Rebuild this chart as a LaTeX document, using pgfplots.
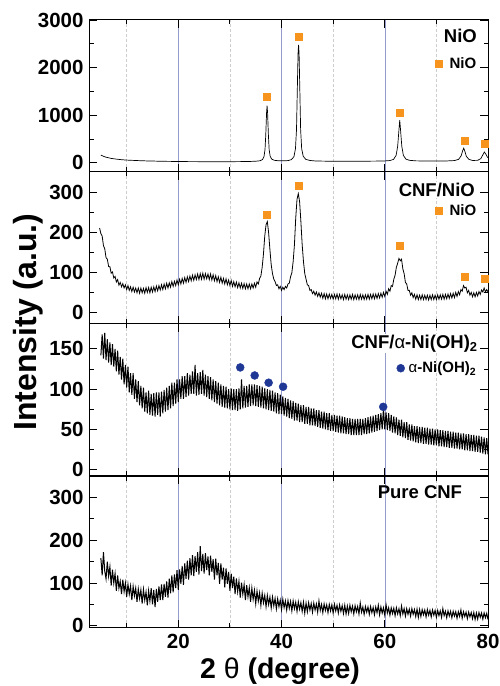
\documentclass[border=0pt]{standalone}
\usepackage{pgfplots}
\pgfplotsset{compat=1.18}
\usepackage{fontspec}
\setmainfont{Liberation Sans}
\definecolor{nio}{RGB}{247,148,29}
\definecolor{nioh}{RGB}{31,56,150}
\definecolor{gridmaj}{RGB}{150,155,205}
\definecolor{gridmin}{RGB}{205,205,205}
\newcommand\tickfont{\fontsize{20.5}{22}\selectfont\bfseries}
\newcommand\titlefont{\fontsize{18.5}{20}\selectfont\bfseries}
\newcommand\legfont{\fontsize{15}{16}\selectfont\bfseries}
\tikzset{titlenode/.style={font=\titlefont, inner sep=1pt, fill=white, anchor=base east}}
\pgfplotsset{
  panel/.style={
    scale only axis, width=399pt, height=152pt,
    xmin=2.7, xmax=80,
    xtick={20,40,60,80}, minor xtick={10,30,50,70},
    xticklabels={},
    tick align=inside,
    major tick length=8pt, minor tick length=4.5pt,
    every tick/.style={black, line width=0.9pt},
    axis line style={line width=1pt},
    xmajorgrids, xminorgrids,
    major grid style={gridmaj, line width=0.5pt},
    minor grid style={gridmin, dash pattern=on 3pt off 2pt, line width=0.5pt},
    minor y tick num=1,
    tick label style={font=\tickfont},
    /pgf/number format/assume math mode=true,
    /pgf/number format/1000 sep={},
    yticklabel style={xshift=-2pt},
    legend style={draw=none, fill=none, font=\legfont, inner sep=0pt},
    legend image code/.code={\draw[mark repeat=2,mark phase=2] plot coordinates {(0pt,0pt)(6pt,0pt)(12pt,0pt)};},
  },
  data/.style={black, line width=1pt, no marks, forget plot},
}
\begin{document}
\begin{tikzpicture}
\path[use as bounding box] (0,0) rectangle (500pt,686pt);

% ---------------- Panel 4: Pure CNF ----------------
\begin{axis}[panel, at={(89pt,58pt)}, anchor=south west,
  ymin=-5, ymax=350, ytick={0,100,200,300},
  xticklabels={20,40,60,80}, xticklabel style={yshift=-3pt}]
\addplot[data] coordinates {
(5,158)(5.25,118)(5.5,172)(5.75,128)
(6,110)(6.25,150)(6.5,116)(6.75,138)
(7,94)(7.25,131)(7.5,100)(7.75,122)
(8,82)(8.25,118)(8.5,88)(8.75,104)
(9,74)(9.25,108)(9.5,80)(9.75,100)
(10,68)(10.25,97)(10.5,74)(10.75,93)
(11,60)(11.25,92)(11.5,70)(11.75,88)
(12,56)(12.25,86)(12.5,64)(12.75,84)
(13,52)(13.25,85)(13.5,60)(13.75,79)
(14,48)(14.25,82)(14.5,58)(14.75,88)
(15,50)(15.25,84)(15.5,44)(15.75,86)
(16,56)(16.25,92)(16.5,60)(16.75,97)
(17,60)(17.25,98)(17.5,68)(17.75,104)
(18,66)(18.25,110)(18.5,76)(18.75,118)
(19,78)(19.25,120)(19.5,88)(19.75,130)
(20,84)(20.25,132)(20.5,98)(20.75,140)
(21,96)(21.25,146)(21.5,110)(21.75,152)
(22,108)(22.25,158)(22.5,118)(22.75,165)
(23,116)(23.25,163)(23.5,126)(23.75,172)
(24,120)(24.25,186)(24.5,128)(24.75,168)
(25,122)(25.25,170)(25.5,130)(25.75,162)
(26,118)(26.25,164)(26.5,126)(26.75,156)
(27,108)(27.25,157)(27.5,118)(27.75,147)
(28,98)(28.25,146)(28.5,108)(28.75,136)
(29,90)(29.25,134)(29.5,98)(29.75,126)
(30,82)(30.25,122)(30.5,88)(30.75,115)
(31,74)(31.25,111)(31.5,80)(31.75,104)
(32,66)(32.25,101)(32.5,74)(32.75,96)
(33,60)(33.25,95)(33.5,68)(33.75,89)
(34,56)(34.25,88)(34.5,62)(34.75,83)
(35,52)(35.25,81)(35.5,58)(35.75,77)
(36,48)(36.25,76)(36.5,54)(36.75,71)
(37,45)(37.25,71)(37.5,50)(37.75,67)
(38,42)(38.25,67)(38.5,47)(38.75,64)
(39,40)(39.25,63)(39.5,45)(39.75,60)
(40,38)(40.25,62)(40.5,43)(40.75,58)
(41,37)(41.25,59)(41.5,41)(41.75,57)
(42,35)(42.25,58)(42.5,40)(42.75,55)
(43,34)(43.25,56)(43.5,39)(43.75,54)
(44,34)(44.25,55)(44.5,30)(44.75,53)
(45,33)(45.25,54)(45.5,37)(45.75,52)
(46,32)(46.25,53)(46.5,37)(46.75,51)
(47,32)(47.25,58)(47.5,36)(47.75,50)
(48,31)(48.25,51)(48.5,36)(48.75,49)
(49,31)(49.25,50)(49.5,35)(49.75,49)
(50,30)(50.25,50)(50.5,35)(50.75,48)
(51,30)(51.25,49)(51.5,34)(51.75,47)
(52,29)(52.25,48)(52.5,28)(52.75,46)
(53,29)(53.25,48)(53.5,33)(53.75,46)
(54,28)(54.25,47)(54.5,33)(54.75,45)
(55,28)(55.25,53)(55.5,32)(55.75,44)
(56,27)(56.25,45)(56.5,32)(56.75,44)
(57,27)(57.25,45)(57.5,31)(57.75,43)
(58,26)(58.25,44)(58.5,31)(58.75,48)
(59,26)(59.25,44)(59.5,30)(59.75,42)
(60,25)(60.25,49)(60.5,30)(60.75,42)
(61,25)(61.25,42)(61.5,29)(61.75,41)
(62,24)(62.25,42)(62.5,28)(62.75,40)
(63,24)(63.25,46)(63.5,28)(63.75,40)
(64,23)(64.25,40)(64.5,27)(64.75,39)
(65,23)(65.25,40)(65.5,27)(65.75,38)
(66,22)(66.25,39)(66.5,20)(66.75,38)
(67,22)(67.25,38)(67.5,26)(67.75,37)
(68,21)(68.25,38)(68.5,25)(68.75,36)
(69,21)(69.25,37)(69.5,25)(69.75,36)
(70,20)(70.25,36)(70.5,24)(70.75,35)
(71,20)(71.25,40)(71.5,24)(71.75,34)
(72,19)(72.25,35)(72.5,23)(72.75,34)
(73,19)(73.25,34)(73.5,23)(73.75,33)
(74,18)(74.25,33)(74.5,22)(74.75,37)
(75,18)(75.25,33)(75.5,22)(75.75,32)
(76,17)(76.25,32)(76.5,21)(76.75,31)
(77,17)(77.25,31)(77.5,15)(77.75,30)
(78,16)(78.25,31)(78.5,20)(78.75,30)
(79,16)(79.25,30)(79.5,19)(79.75,29)
(80,15)};
\node[titlenode, fill=none] at (rel axis cs:0.938,0.849) {Pure CNF};
\end{axis}

% ---------------- Panel 3: CNF/alpha-Ni(OH)2 ----------------
\begin{axis}[panel, at={(89pt,210pt)}, anchor=south west,
  ymin=-8, ymax=181, ytick={0,50,100,150},
  legend style={at={(0.976,0.709)}, anchor=east}]
\addplot[data] coordinates {
(5,142)(5.25,168)(5.5,138)(5.75,170)
(6,136)(6.25,162)(6.5,133)(6.75,158)
(7,130)(7.25,156)(7.5,128)(7.75,150)
(8,122)(8.25,148)(8.5,118)(8.75,140)
(9,112)(9.25,138)(9.5,106)(9.75,130)
(10,102)(10.25,128)(10.5,96)(10.75,120)
(11,93)(11.25,120)(11.5,88)(11.75,112)
(12,84)(12.25,110)(12.5,80)(12.75,104)
(13,76)(13.25,102)(13.5,72)(13.75,96)
(14,70)(14.25,98)(14.5,68)(14.75,94)
(15,67)(15.25,95)(15.5,66)(15.75,96)
(16,68)(16.25,96)(16.5,66)(16.75,97)
(17,70)(17.25,99)(17.5,72)(17.75,102)
(18,74)(18.25,104)(18.5,76)(18.75,108)
(19,79)(19.25,108)(19.5,82)(19.75,112)
(20,84)(20.25,112)(20.5,88)(20.75,116)
(21,88)(21.25,116)(21.5,90)(21.75,120)
(22,92)(22.25,118)(22.5,94)(22.75,122)
(23,94)(23.25,130)(23.5,92)(23.75,120)
(24,93)(24.25,121)(24.5,94)(24.75,124)
(25,92)(25.25,118)(25.5,90)(25.75,116)
(26,88)(26.25,115)(26.5,86)(26.75,112)
(27,84)(27.25,110)(27.5,82)(27.75,108)
(28,80)(28.25,106)(28.5,78)(28.75,104)
(29,77)(29.25,103)(29.5,76)(29.75,100)
(30,75)(30.25,101)(30.5,74)(30.75,100)
(31,74)(31.25,100)(31.5,73)(31.75,101)
(32,75)(32.25,112)(32.5,76)(32.75,104)
(33,77)(33.25,104)(33.5,78)(33.75,106)
(34,79)(34.25,106)(34.5,80)(34.75,106)
(35,79)(35.25,105)(35.5,78)(35.75,104)
(36,77)(36.25,103)(36.5,76)(36.75,101)
(37,75)(37.25,100)(37.5,74)(37.75,99)
(38,73)(38.25,98)(38.5,72)(38.75,96)
(39,70)(39.25,95)(39.5,69)(39.75,93)
(40,69)(40.25,91)(40.5,67)(40.75,89)
(41,66)(41.25,88)(41.5,64)(41.75,86)
(42,63)(42.25,85)(42.5,61)(42.75,83)
(43,61)(43.25,82)(43.5,59)(43.75,80)
(44,59)(44.25,80)(44.5,57)(44.75,78)
(45,57)(45.25,78)(45.5,55)(45.75,76)
(46,55)(46.25,76)(46.5,54)(46.75,74)
(47,53)(47.25,74)(47.5,52)(47.75,72)
(48,51)(48.25,72)(48.5,50)(48.75,70)
(49,49)(49.25,70)(49.5,48)(49.75,68)
(50,48)(50.25,68)(50.5,47)(50.75,67)
(51,46)(51.25,67)(51.5,45)(51.75,66)
(52,45)(52.25,65)(52.5,44)(52.75,64)
(53,44)(53.25,64)(53.5,43)(53.75,63)
(54,43)(54.25,63)(54.5,43)(54.75,63)
(55,43)(55.25,63)(55.5,43)(55.75,63)
(56,44)(56.25,64)(56.5,44)(56.75,65)
(57,45)(57.25,66)(57.5,46)(57.75,67)
(58,47)(58.25,68)(58.5,48)(58.75,69)
(59,49)(59.25,70)(59.5,50)(59.75,76)
(60,50)(60.25,71)(60.5,49)(60.75,70)
(61,48)(61.25,68)(61.5,46)(61.75,66)
(62,45)(62.25,65)(62.5,43)(62.75,62)
(63,42)(63.25,62)(63.5,40)(63.75,59)
(64,39)(64.25,59)(64.5,37)(64.75,56)
(65,36)(65.25,56)(65.5,35)(65.75,54)
(66,34)(66.25,54)(66.5,33)(66.75,53)
(67,33)(67.25,53)(67.5,32)(67.75,52)
(68,32)(68.25,52)(68.5,31)(68.75,51)
(69,31)(69.25,51)(69.5,30)(69.75,50)
(70,30)(70.25,50)(70.5,29)(70.75,49)
(71,29)(71.25,49)(71.5,28)(71.75,48)
(72,28)(72.25,48)(72.5,27)(72.75,47)
(73,27)(73.25,47)(73.5,26)(73.75,46)
(74,26)(74.25,46)(74.5,25)(74.75,45)
(75,25)(75.25,45)(75.5,24)(75.75,44)
(76,24)(76.25,44)(76.5,23)(76.75,43)
(77,23)(77.25,43)(77.5,22)(77.75,42)
(78,22)(78.25,42)(78.5,21)(78.75,41)
(79,20)(79.25,40)(79.5,19)(79.75,39)
(80,19)};
\addplot[only marks, mark=*, mark size=4pt, color=nioh] coordinates {
(32.0,127)(34.8,117)(37.5,108)(40.3,103)(59.7,78)};
\addlegendentry{\hspace{2pt}{\mdseries α}-Ni(OH)\textsubscript{2}}
\node[titlenode] at (rel axis cs:0.977,0.84) {CNF/{\mdseries α}-Ni(OH)\textsubscript{2}};
\end{axis}

% ---------------- Panel 2: CNF/NiO ----------------
\begin{axis}[panel, at={(89pt,362pt)}, anchor=south west,
  ymin=-30, ymax=350, ytick={0,100,200,300},
  legend style={at={(0.976,0.743)}, anchor=east}]
\addplot[data, line width=0.8pt] coordinates {
(4.75,210)(5,196)(5.25,190)(5.5,166)(5.75,158)
(6,136)(6.25,132)(6.5,114)(6.75,113)
(7,97)(7.25,100)(7.5,85)(7.75,89)
(8,75)(8.25,81)(8.5,67)(8.75,74)
(9,63)(9.25,71)(9.5,60)(9.75,68)
(10,56)(10.25,66)(10.5,54)(10.75,63)
(11,51)(11.25,62)(11.5,50)(11.75,60)
(12,48)(12.25,60)(12.5,47)(12.75,60)
(13,48)(13.25,59)(13.5,47)(13.75,61)
(14,49)(14.25,61)(14.5,48)(14.75,62)
(15,50)(15.25,63)(15.5,51)(15.75,65)
(16,53)(16.25,66)(16.5,55)(16.75,68)
(17,56)(17.25,70)(17.5,58)(17.75,72)
(18,60)(18.25,73)(18.5,62)(18.75,76)
(19,64)(19.25,77)(19.5,66)(19.75,80)
(20,68)(20.25,82)(20.5,70)(20.75,84)
(21,72)(21.25,86)(21.5,74)(21.75,88)
(22,76)(22.25,90)(22.5,78)(22.75,92)
(23,79)(23.25,93)(23.5,81)(23.75,95)
(24,81)(24.25,96)(24.5,82)(24.75,97)
(25,82)(25.25,96)(25.5,83)(25.75,95)
(26,81)(26.25,95)(26.5,80)(26.75,93)
(27,78)(27.25,91)(27.5,76)(27.75,88)
(28,74)(28.25,87)(28.5,72)(28.75,84)
(29,70)(29.25,83)(29.5,68)(29.75,80)
(30,66)(30.25,79)(30.5,64)(30.75,76)
(31,63)(31.25,75)(31.5,61)(31.75,73)
(32,60)(32.25,72)(32.5,59)(32.75,71)
(33,58)(33.25,70)(33.5,58)(33.75,70)
(34,58)(34.25,70)(34.5,60)(34.75,72)
(35,62)(35.25,75)(35.5,70)(35.75,84)
(36,90)(36.25,112)(36.5,145)(36.75,190)
(37,218)(37.25,226)(37.5,198)(37.75,156)
(38,118)(38.25,96)(38.5,82)(38.75,76)
(39,66)(39.25,68)(39.5,58)(39.75,64)
(40,54)(40.25,62)(40.5,56)(40.75,64)
(41,60)(41.25,70)(41.5,72)(41.75,88)
(42,98)(42.25,126)(42.5,168)(42.75,235)
(43,282)(43.25,296)(43.5,276)(43.75,226)
(44,168)(44.25,126)(44.5,96)(44.75,82)
(45,68)(45.25,66)(45.5,54)(45.75,56)
(46,46)(46.25,52)(46.5,42)(46.75,50)
(47,39)(47.25,48)(47.5,37)(47.75,47)
(48,34)(48.25,46)(48.5,33)(48.75,45)
(49,33)(49.25,45)(49.5,34)(49.75,44)
(50,32)(50.25,44)(50.5,33)(50.75,45)
(51,32)(51.25,44)(51.5,33)(51.75,43)
(52,31)(52.25,44)(52.5,32)(52.75,43)
(53,31)(53.25,43)(53.5,32)(53.75,44)
(54,31)(54.25,43)(54.5,32)(54.75,43)
(55,31)(55.25,44)(55.5,32)(55.75,43)
(56,31)(56.25,43)(56.5,32)(56.75,44)
(57,32)(57.25,44)(57.5,33)(57.75,45)
(58,33)(58.25,45)(58.5,34)(58.75,46)
(59,35)(59.25,47)(59.5,37)(59.75,49)
(60,39)(60.25,52)(60.5,44)(60.75,58)
(61,52)(61.25,66)(61.5,64)(61.75,82)
(62,92)(62.25,112)(62.5,122)(62.75,134)
(63,128)(63.25,132)(63.5,108)(63.75,96)
(64,74)(64.25,70)(64.5,54)(64.75,54)
(65,42)(65.25,48)(65.5,36)(65.75,44)
(66,32)(66.25,43)(66.5,31)(66.75,42)
(67,31)(67.25,43)(67.5,31)(67.75,42)
(68,31)(68.25,42)(68.5,30)(68.75,42)
(69,31)(69.25,43)(69.5,31)(69.75,42)
(70,31)(70.25,43)(70.5,32)(70.75,43)
(71,32)(71.25,44)(71.5,32)(71.75,44)
(72,33)(72.25,45)(72.5,34)(72.75,46)
(73,35)(73.25,47)(73.5,36)(73.75,49)
(74,39)(74.25,51)(74.5,43)(74.75,56)
(75,52)(75.25,66)(75.5,60)(75.75,62)
(76,48)(76.25,54)(76.5,42)(76.75,49)
(77,38)(77.25,48)(77.5,38)(77.75,49)
(78,40)(78.25,51)(78.5,44)(78.75,55)
(79,50)(79.25,60)(79.5,50)(79.75,56)
(80,50)};
\addplot[only marks, mark=square*, mark size=3.5pt, color=nio] coordinates {
(37.2,242)(43.3,316)(62.9,165)(75.4,87)(79.3,82)};
\addlegendentry{\hspace{5pt}NiO}
\node[titlenode] at (rel axis cs:0.970,0.8375) {CNF/NiO};
\end{axis}

% ---------------- Panel 1: NiO ----------------
\begin{axis}[panel, at={(89pt,514pt)}, anchor=south west,
  ymin=-190, ymax=3000, ytick={0,1000,2000,3000},
  legend style={at={(0.976,0.715)}, anchor=east}]
\addplot[data, line width=0.7pt] coordinates {
(5,165)(5.5,140)(6,120)(6.5,108)(7,95)(7.5,88)(8,80)(8.5,74)(9,68)(10,60)(11,55)(12,50)(13,46)(14,42)(15,40)(16,37)(17,35)(18,33)(19,32)(20,30)(22,28)(24,27)(26,26)(28,25)(30,26)(32,28)(34,32)(35,36)(35.8,45)(36.3,70)(36.6,130)(36.8,280)(36.95,600)(37.1,1050)(37.2,1200)(37.3,1050)(37.45,600)(37.6,280)(37.8,140)(38.1,80)(38.6,55)(39.5,45)(40.5,44)(41.3,50)(41.9,70)(42.4,130)(42.7,300)(42.9,700)(43.05,1500)(43.2,2300)(43.3,2480)(43.4,2300)(43.55,1500)(43.7,700)(43.9,300)(44.2,140)(44.7,75)(45.5,52)(46.5,42)(48,38)(50,36)(52,36)(54,36)(56,37)(58,38)(60,42)(61,50)(61.7,75)(62.2,160)(62.5,350)(62.75,700)(62.9,900)(63.05,700)(63.3,350)(63.6,160)(64.1,80)(64.8,55)(66,44)(68,40)(70,40)(72,42)(73.5,50)(74.3,75)(74.8,150)(75.1,260)(75.3,310)(75.5,250)(75.8,140)(76.3,75)(77,52)(78,55)(78.6,90)(79.0,170)(79.3,230)(79.6,180)(79.85,130)(80,110)};
\addplot[only marks, mark=square*, mark size=3.5pt, color=nio] coordinates {
(37.2,1385)(43.3,2650)(62.9,1050)(75.4,460)(79.3,400)};
\addlegendentry{\hspace{5pt}NiO}
\node[titlenode] at (rel axis cs:0.975,0.854) {NiO};
\end{axis}

\node[rotate=90, font=\fontsize{32}{34}\selectfont\bfseries] at (28pt,364pt) {Intensity (a.u.)};
\node[anchor=base, font=\fontsize{28.5}{31}\selectfont\bfseries] at (280pt,7pt) {2 {\mdseries θ} (degree)};
\end{tikzpicture}
\end{document}
